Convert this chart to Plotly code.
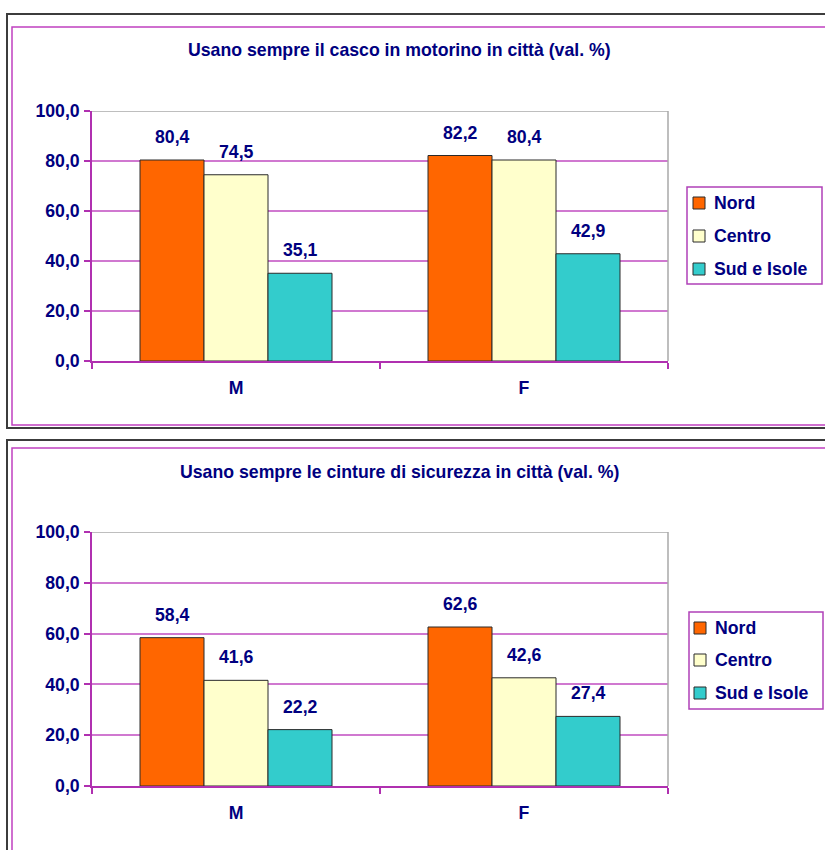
import plotly.graph_objects as go

# ---- data ----
categories = ["M", "F"]
series_names = ["Nord", "Centro", "Sud e Isole"]
series_colors = ["#FF6600", "#FFFFCC", "#33CCCC"]

casco_nord = [80.4, 82.2]
casco_centro = [74.5, 80.4]
casco_sud = [35.1, 42.9]

cinture_nord = [58.4, 62.6]
cinture_centro = [41.6, 42.6]
cinture_sud = [22.2, 27.4]

title_casco = "Usano sempre il casco in motorino in città (val. %)"
title_cinture = "Usano sempre le cinture di sicurezza in città (val. %)"

# ---- styling ----
W, H = 825, 850
NAVY = "#000080"
MAGENTA = "#B030B0"
GRID = "#D078D0"
FRAME_GRAY = "#A8A8A8"
FONT = "Liberation Sans, Arial, sans-serif"
FS = 17.7
BARGAP = 1.5 / 4.5  # gap width 150% of a bar


def px_x(p):
    return p / W


def px_y(p):
    return 1 - p / H


fig = go.Figure()

panels = [
    dict(vals=[casco_nord, casco_centro, casco_sud], title=title_casco,
         xa="x", ya="y", xdom=(92, 668), ydom=(111, 361), title_y=50,
         legend_box=(687, 187, 822, 284), legend_items=(203, 236, 269),
         swatch_x=693, text_x=712),
    dict(vals=[cinture_nord, cinture_centro, cinture_sud], title=title_cinture,
         xa="x2", ya="y2", xdom=(92, 668), ydom=(532, 786), title_y=472,
         legend_box=(689, 612, 823, 709), legend_items=(628, 660, 693),
         swatch_x=694, text_x=713),
]

annotations = []
shapes = []
n_series = len(series_names)
bar_w = (1 - BARGAP) / n_series

for pi, p in enumerate(panels):
    for si, (name, color, vals) in enumerate(zip(series_names, series_colors, p["vals"])):
        fig.add_trace(go.Bar(
            x=categories, y=vals, name=name,
            marker=dict(color=color, line=dict(color="#2A2A2A", width=1)),
            xaxis=p["xa"], yaxis=p["ya"],
            showlegend=False, hoverinfo="skip",
        ))
        # value labels above each bar
        for ci, v in enumerate(vals):
            annotations.append(dict(
                x=ci + (si - (n_series - 1) / 2) * bar_w, y=v,
                xref=p["xa"], yref=p["ya"],
                text="<b>" + f"{v:.1f}".replace(".", ",") + "</b>",
                showarrow=False, yanchor="bottom", yshift=11,
                font=dict(family=FONT, size=FS, color=NAVY),
            ))
    # chart title
    annotations.append(dict(
        x=px_x(399), y=px_y(p["title_y"]), xref="paper", yref="paper",
        text=f"<b>{p['title']}</b>", showarrow=False,
        xanchor="center", yanchor="middle",
        font=dict(family=FONT, size=FS, color=NAVY),
    ))
    # gray frame on top and right of the plot area
    shapes.append(dict(type="line", xref=f"{p['xa']} domain", yref=p["ya"],
                       x0=0, x1=1, y0=100, y1=100,
                       line=dict(color=FRAME_GRAY, width=1.5)))
    shapes.append(dict(type="line", xref=f"{p['xa']} domain", yref=f"{p['ya']} domain",
                       x0=1, x1=1, y0=0, y1=1,
                       line=dict(color=FRAME_GRAY, width=1.5)))

    # legend box with one swatch and label per series
    bx0, by0, bx1, by1 = p["legend_box"]
    shapes.append(dict(type="rect", xref="paper", yref="paper",
                       x0=px_x(bx0), x1=px_x(bx1), y0=px_y(by1), y1=px_y(by0),
                       line=dict(color="#B040B8", width=1.5), fillcolor="white"))
    for name, color, iy in zip(series_names, series_colors, p["legend_items"]):
        sx = p["swatch_x"]
        shapes.append(dict(type="rect", xref="paper", yref="paper",
                           x0=px_x(sx), x1=px_x(sx + 12),
                           y0=px_y(iy + 6), y1=px_y(iy - 6),
                           line=dict(color="#2A2A2A", width=1), fillcolor=color))
        annotations.append(dict(
            x=px_x(p["text_x"]), y=px_y(iy), xref="paper", yref="paper",
            text=f"<b>{name}</b>", showarrow=False,
            xanchor="left", yanchor="middle",
            font=dict(family=FONT, size=FS, color=NAVY),
        ))

    xkey = "xaxis" if pi == 0 else "xaxis2"
    ykey = "yaxis" if pi == 0 else "yaxis2"
    fig.update_layout(**{
        xkey: dict(
            domain=[px_x(p["xdom"][0]), px_x(p["xdom"][1])],
            anchor=p["ya"], type="category",
            showline=True, linecolor=MAGENTA, linewidth=1.5,
            ticks="outside", tickson="boundaries", ticklen=6,
            tickcolor=MAGENTA, tickwidth=1.5,
            showgrid=False, ticklabelstandoff=10,
            tickfont=dict(family=FONT, size=FS, color=NAVY, weight="bold"),
            fixedrange=True,
        ),
        ykey: dict(
            domain=[px_y(p["ydom"][1]), px_y(p["ydom"][0])],
            anchor=p["xa"], range=[0, 100], dtick=20,
            tickformat=".1f",
            showline=True, linecolor=MAGENTA, linewidth=1.5,
            ticks="outside", ticklen=6, tickcolor=MAGENTA, tickwidth=1.5,
            showgrid=True, gridcolor=GRID, gridwidth=2,
            zeroline=False, ticklabelstandoff=1,
            tickfont=dict(family=FONT, size=FS, color=NAVY, weight="bold"),
            fixedrange=True,
        ),
    })

# panel borders: dark outer frame and magenta inner frame
shapes += [
    dict(type="rect", xref="paper", yref="paper", layer="below",
         x0=px_x(7), x1=px_x(840), y0=px_y(428), y1=px_y(14),
         line=dict(color="#3C3C3C", width=2)),
    dict(type="rect", xref="paper", yref="paper", layer="below",
         x0=px_x(12), x1=px_x(840), y0=px_y(425), y1=px_y(27),
         line=dict(color="#C040C0", width=1.5)),
    dict(type="rect", xref="paper", yref="paper", layer="below",
         x0=px_x(7), x1=px_x(840), y0=px_y(870), y1=px_y(440),
         line=dict(color="#3C3C3C", width=2)),
    dict(type="rect", xref="paper", yref="paper", layer="below",
         x0=px_x(12), x1=px_x(840), y0=px_y(860), y1=px_y(448),
         line=dict(color="#C040C0", width=1.5)),
]

fig.update_layout(
    width=W, height=H,
    margin=dict(l=0, r=0, t=0, b=0, autoexpand=False),
    paper_bgcolor="white", plot_bgcolor="white",
    separators=",.",
    barmode="group", bargap=BARGAP, bargroupgap=0,
    showlegend=False,
    annotations=annotations,
    shapes=shapes,
    font=dict(family=FONT, color=NAVY),
)

fig.write_html("out.html")
